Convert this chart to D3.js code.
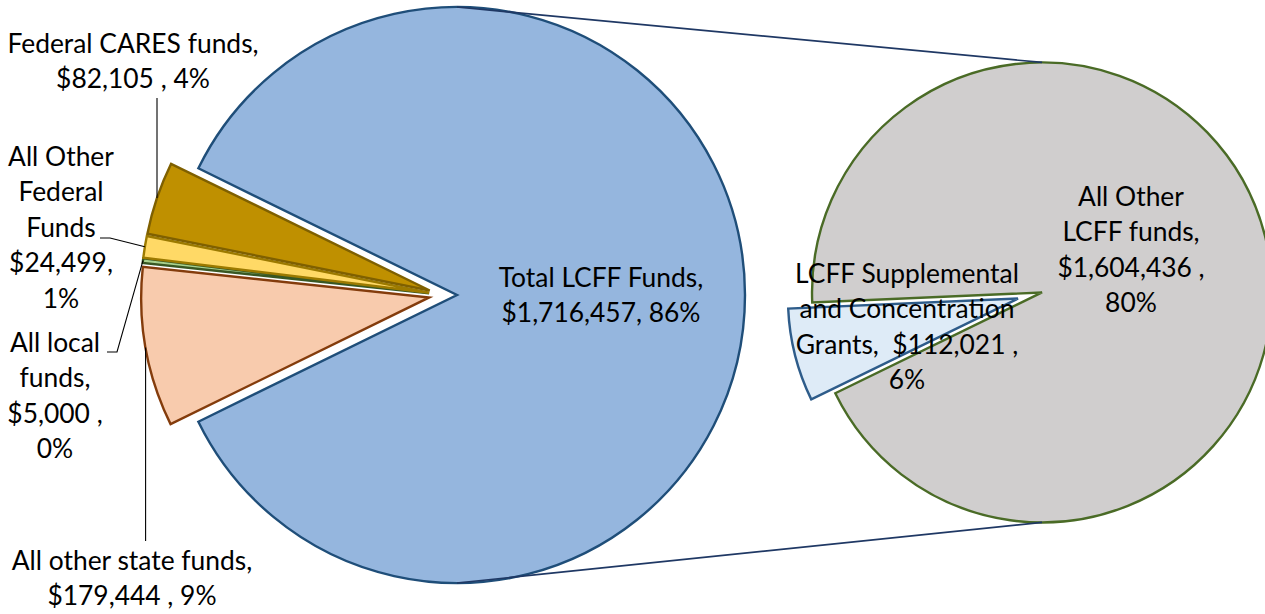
<!DOCTYPE html>
<html>
<head>
<meta charset="utf-8">
<script src="https://cdn.jsdelivr.net/npm/d3@7"></script>
<style>
  html, body { margin: 0; padding: 0; background: #ffffff; }
  svg { display: block; }
  text { font-family: Lato, "Open Sans", sans-serif; fill: #000; white-space: pre; }
</style>
</head>
<body>
<svg id="chart" width="1265" height="614"></svg>
<script>
// ---------------- DATA ----------------
const primaryCategories = ["All other state funds", "All local funds", "All Other Federal Funds", "Federal CARES funds", "Total LCFF Funds"];
const primaryValues = [179444, 5000, 24499, 82105, 1716457];
const secondaryCategories = ["LCFF Supplemental and Concentration Grants", "All Other LCFF funds"];
const secondaryValues = [112021, 1604436];

// label text lines (as shown in the chart)
const primaryLabelLines = [
  ["All other state funds,", "$179,444 , 9%"],
  ["All local", "funds,", "$5,000 ,", "0%"],
  ["All Other", "Federal", "Funds", "$24,499,", "1%"],
  ["Federal CARES funds,", "$82,105 , 4%"],
  ["Total LCFF Funds,", "$1,716,457, 86%"]
];
const secondaryLabelLines = [
  ["LCFF Supplemental", "and Concentration", "Grants,  $112,021 ,", "6%"],
  ["All Other", "LCFF funds,", "$1,604,436 ,", "80%"]
];

// ---------------- STYLE / LAYOUT ----------------
const primaryFill   = ["#F8CBAD", "#A9D18E", "#FFD966", "#BF9000", "#95B6DE"];
const primaryStroke = ["#843C0C", "#385723", "#9C7A00", "#7F6000", "#1F4E79"];
const secondaryFill   = ["#DEEBF7", "#D0CECE"];
const secondaryStroke = ["#2E5C8A", "#4A6B26"];

const L = { cx: 443, cy: 295, r: 288, explode: 14 };
const R = { cx: 1030, cy: 295.5, r: 230, explode: 12.4, startDeg: 244 };
const fontSize = 26.4;
const lineGap = 35.4;

// label placement: [centerX, firstBaseline]
const primaryLabelPos = [[132, 570], [55, 352], [61, 166], [133, 53], [601, 287]];
const secondaryLabelPos = [[907, 283], [1131, 206]];
// leader line start points (label side), null = same x as the arc point
const primaryLeaders = [
  { pts: [[null, 541]] },
  { pts: [[107, 352], [117, 352]] },
  { pts: [[100, 238], [110, 238]] },
  { pts: [[null, 98]] },
  null
];

const svg = d3.select("#chart");
const deg = Math.PI / 180;

// ---------------- PRIMARY PIE ----------------
const total = d3.sum(primaryValues);
const otherShare = d3.sum(primaryValues.slice(0, 4)) / total;
const lStart = 1.5 * Math.PI - Math.PI * otherShare;
const pieL = d3.pie().sort(null).value(d => d)
  .startAngle(lStart).endAngle(lStart + 2 * Math.PI);
const arcsL = pieL(primaryValues);
const arcL = d3.arc().innerRadius(0).outerRadius(L.r);

function offset(a, c, e) {
  const m = (a.startAngle + a.endAngle) / 2;
  return [c.cx + e * Math.sin(m), c.cy - e * Math.cos(m)];
}

const gL = svg.append("g");
gL.selectAll("path").data(arcsL).join("path")
  .attr("transform", d => { const o = offset(d, L, L.explode); return `translate(${o[0]},${o[1]})`; })
  .attr("d", arcL)
  .attr("fill", (d, i) => primaryFill[i])
  .attr("stroke", (d, i) => primaryStroke[i])
  .attr("stroke-width", 2.4)
  .attr("stroke-linejoin", "miter");

// ---------------- SECONDARY PIE ----------------
const rStart = R.startDeg * deg;
const pieR = d3.pie().sort(null).value(d => d)
  .startAngle(rStart).endAngle(rStart + 2 * Math.PI);
const arcsR = pieR(secondaryValues);
const arcR = d3.arc().innerRadius(0).outerRadius(R.r);

const gR = svg.append("g");
gR.selectAll("path").data(arcsR).join("path")
  .attr("transform", d => { const o = offset(d, R, R.explode); return `translate(${o[0]},${o[1]})`; })
  .attr("d", arcR)
  .attr("fill", (d, i) => secondaryFill[i])
  .attr("stroke", (d, i) => secondaryStroke[i])
  .attr("stroke-width", 2.4)
  .attr("stroke-linejoin", "miter");

// ---------------- CONNECTOR LINES ----------------
const lcff = arcsL[4];
const lc = offset(lcff, L, L.explode);
const grey = arcsR[1];
const rc = offset(grey, R, R.explode);
const conn = [
  [[lc[0], lc[1] - L.r], [rc[0], rc[1] - R.r]],
  [[lc[0], lc[1] + L.r], [rc[0], rc[1] + R.r]]
];
svg.append("g").selectAll("line").data(conn).join("line")
  .attr("x1", d => d[0][0]).attr("y1", d => d[0][1])
  .attr("x2", d => d[1][0]).attr("y2", d => d[1][1])
  .attr("stroke", "#1F3864").attr("stroke-width", 1.7);

// ---------------- LEADER LINES ----------------
const gLead = svg.append("g");
arcsL.forEach((a, i) => {
  const ld = primaryLeaders[i];
  if (!ld) return;
  const o = offset(a, L, L.explode);
  const m = (a.startAngle + a.endAngle) / 2;
  const end = [o[0] + L.r * Math.sin(m), o[1] - L.r * Math.cos(m)];
  const pts = ld.pts.map(p => [p[0] === null ? end[0] : p[0], p[1]]);
  pts.push(end);
  gLead.append("path")
    .attr("d", d3.line()(pts))
    .attr("fill", "none").attr("stroke", "#000").attr("stroke-width", 1.1);
});

// ---------------- LABELS ----------------
function drawLabel(lines, pos) {
  const t = svg.append("text")
    .attr("text-anchor", "middle")
    .attr("font-size", fontSize);
  lines.forEach((s, k) => {
    t.append("tspan").attr("x", pos[0]).attr("y", pos[1] + k * lineGap).text(s);
  });
}
primaryLabelLines.forEach((lines, i) => drawLabel(lines, primaryLabelPos[i]));
secondaryLabelLines.forEach((lines, i) => drawLabel(lines, secondaryLabelPos[i]));
</script>
</body>
</html>
